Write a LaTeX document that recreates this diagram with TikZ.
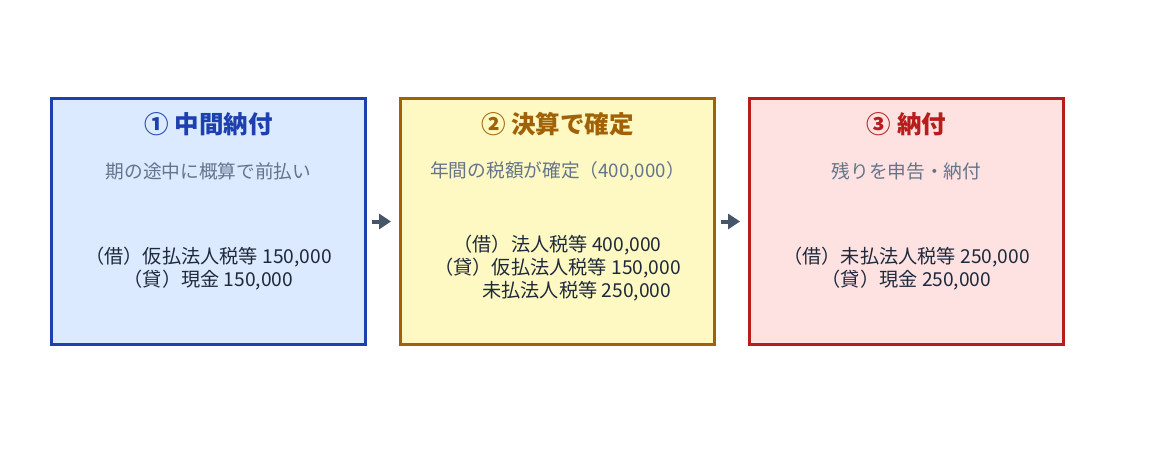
\documentclass[tikz,border=0pt]{standalone}
\usepackage{fontspec}
\setmainfont{Noto Sans CJK JP}
\usetikzlibrary{positioning,arrows.meta}

\definecolor{blueline}{HTML}{1E40AF}
\definecolor{bluefill}{HTML}{DBEAFE}
\definecolor{yellowline}{HTML}{A16207}
\definecolor{yellowfill}{HTML}{FEF9C3}
\definecolor{redline}{HTML}{B91C1C}
\definecolor{redfill}{HTML}{FEE2E2}
\definecolor{notegray}{HTML}{64748B}
\definecolor{entryslate}{HTML}{1E293B}
\definecolor{arrowslate}{HTML}{475569}

\tikzset{
  stagebox/.style={draw=#1line,fill=#1fill,line width=3pt,minimum width=314pt,minimum height=246pt},
  stagetitle/.style={font=\fontsize{24.5}{29}\selectfont\bfseries,text=#1line},
  stagenote/.style={font=\fontsize{18.7}{22}\selectfont,text=notegray},
  stageentry/.style={font=\fontsize{19.2}{23}\selectfont,text=entryslate,align=center},
  flow/.style={-{Triangle[length=12pt,width=15pt]},line width=4pt,draw=arrowslate,shorten <=5pt,shorten >=8pt}
}

\begin{document}
\begin{tikzpicture}
\useasboundingbox (0,0) rectangle (1161pt,-460pt);

\node[stagebox=blue] (B1) at (208.5pt,-221.5pt) {};
\node[stagebox=yellow,right=32pt of B1] (B2) {};
\node[stagebox=red,right=32pt of B2] (B3) {};

\foreach \c/\t [count=\n] in {blue/{① 中間納付},yellow/{② 決算で確定},red/{③ 納付}}
  \node[stagetitle=\c] (T\n) at ([yshift=-27pt]B\n.north) {\t};

\foreach \t [count=\n] in {{期の途中に概算で前払い},{年間の税額が確定（400,000）},{残りを申告・納付}}
  \node[stagenote] (S\n) at ([yshift=-74pt]B\n.north) {\t};

\node[stageentry] (E1) at ([yshift=-47pt]B1.center) {（借）仮払法人税等 150,000\\（貸）現金 150,000};
\node[stageentry] (E2) at ([yshift=-47pt]B2.center) {（借）法人税等 400,000\\（貸）仮払法人税等 150,000\\\hspace*{2em}未払法人税等 250,000};
\node[stageentry] (E3) at ([yshift=-47pt]B3.center) {（借）未払法人税等 250,000\\（貸）現金 250,000};

\draw[flow] (B1) -- (B2);
\draw[flow] (B2) -- (B3);
\end{tikzpicture}
\end{document}
